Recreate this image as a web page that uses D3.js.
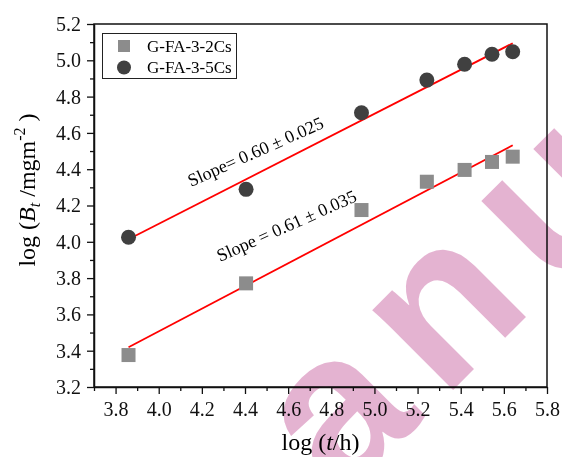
<!DOCTYPE html>
<html>
<head>
<meta charset="utf-8">
<script src="https://cdn.jsdelivr.net/npm/d3@7"></script>
<style>
  body { margin: 0; background: #fff; }
  svg { display: block; font-family: "Liberation Serif", "Times New Roman", serif; }
</style>
</head>
<body>
<svg id="chart" width="562" height="457"></svg>
<script>
// log(t/h) for each sampling time
var logT = [3.86, 4.405, 4.94, 5.243, 5.418, 5.545, 5.641];
// log(Bt / mg m^-2) for both samples
var cs2 = [3.376, 3.771, 4.175, 4.331, 4.396, 4.440, 4.469];
var cs5 = [4.025, 4.289, 4.711, 4.891, 4.978, 5.033, 5.047];
// linear fit end points
var fitX = [3.86, 5.641];
var fit2 = [3.419, 4.532];
var fit5 = [4.014, 5.094];
var seriesNames = ["G-FA-3-2Cs", "G-FA-3-5Cs"];
var xTicks = [3.8, 4.0, 4.2, 4.4, 4.6, 4.8, 5.0, 5.2, 5.4, 5.6, 5.8];
var yTicks = [3.2, 3.4, 3.6, 3.8, 4.0, 4.2, 4.4, 4.6, 4.8, 5.0, 5.2];

var margin = {top: 24, left: 94, bottom: 70, right: 15};
var svg = d3.select("#chart");
var width = 562 - margin.left - margin.right;
var height = 457 - margin.top - margin.bottom;

var x = d3.scaleLinear().domain([3.7, 5.8]).range([margin.left, margin.left + width]);
var y = d3.scaleLinear().domain([3.2, 5.2]).range([margin.top + height, margin.top]);

var minorX = d3.range(3.7, 5.81, 0.1).filter(function(v) {
  return Math.abs(Math.round(v * 5) - v * 5) > 0.01;
});
var minorY = d3.range(3.3, 5.2, 0.2);

// minor ticks
svg.append("g")
   .attr("transform", "translate(0," + (margin.top + height) + ")")
   .call(d3.axisBottom(x).tickValues(minorX).tickSize(4).tickFormat(""))
   .call(function(g) { g.select(".domain").remove(); });
svg.append("g")
   .attr("transform", "translate(" + margin.left + ",0)")
   .call(d3.axisLeft(y).tickValues(minorY).tickSize(4).tickFormat(""))
   .call(function(g) { g.select(".domain").remove(); });

// major ticks
var xAxis = svg.append("g")
   .attr("transform", "translate(0," + (margin.top + height) + ")")
   .call(d3.axisBottom(x).tickValues(xTicks).tickSize(7).tickSizeOuter(0).tickPadding(8)
     .tickFormat(d3.format(".1f")));

var yAxis = svg.append("g")
   .attr("transform", "translate(" + margin.left + ",0)")
   .call(d3.axisLeft(y).tickValues(yTicks).tickSize(7).tickSizeOuter(0).tickPadding(6)
     .tickFormat(d3.format(".1f")));

[xAxis, yAxis].forEach(function(a) {
  a.attr("font-family", null).attr("font-size", null);
  a.selectAll("text").style("font-size", "20px").attr("fill", "#111");
});

svg.selectAll(".tick line").attr("stroke", "#111").attr("stroke-width", 1.3);
svg.selectAll(".domain").attr("stroke", "#111").attr("stroke-width", 1.5);

// frame top / right
svg.append("rect")
   .attr("x", margin.left).attr("y", margin.top)
   .attr("width", width).attr("height", height)
   .attr("fill", "none").attr("stroke", "#111").attr("stroke-width", 1.5);

// fit lines
var line = d3.line()
  .x(function(d) { return x(d[0]); })
  .y(function(d) { return y(d[1]); });
[fit2, fit5].forEach(function(f) {
  svg.append("path")
     .datum(fitX.map(function(v, i) { return [v, f[i]]; }))
     .attr("d", line)
     .attr("fill", "none")
     .attr("stroke", "#ff0000")
     .attr("stroke-width", 1.8);
});

// squares
svg.append("g").selectAll("rect")
   .data(logT.map(function(v, i) { return [v, cs2[i]]; }))
   .enter().append("rect")
   .attr("x", function(d) { return x(d[0]) - 7; })
   .attr("y", function(d) { return y(d[1]) - 7; })
   .attr("width", 14).attr("height", 14)
   .attr("fill", "#8c8c8c");

// circles
svg.append("g").selectAll("circle")
   .data(logT.map(function(v, i) { return [v, cs5[i]]; }))
   .enter().append("circle")
   .attr("cx", function(d) { return x(d[0]); })
   .attr("cy", function(d) { return y(d[1]); })
   .attr("r", 7.5)
   .attr("fill", "#404040");

// slope annotations
svg.append("text")
   .attr("transform", "translate(191,187) rotate(-24)")
   .style("font-size", "18px")
   .text("Slope= 0.60 \u00b1 0.025");
svg.append("text")
   .attr("transform", "translate(220,262) rotate(-24)")
   .style("font-size", "18px")
   .text("Slope = 0.61 \u00b1 0.035");

// legend
var lg = svg.append("g");
lg.append("rect")
  .attr("x", 102.5).attr("y", 33.5).attr("width", 134).attr("height", 45)
  .attr("fill", "#fff").attr("stroke", "#222").attr("stroke-width", 1);
lg.append("rect").attr("x", 118).attr("y", 40).attr("width", 12).attr("height", 12).attr("fill", "#8c8c8c");
lg.append("circle").attr("cx", 124).attr("cy", 67.5).attr("r", 7).attr("fill", "#404040");
lg.selectAll("text.lt").data(seriesNames).enter().append("text")
  .attr("class", "lt")
  .attr("x", 147)
  .attr("y", function(d, i) { return 51.5 + i * 21.5; })
  .style("font-size", "17px")
  .text(function(d) { return d; });

// axis titles
var xt = svg.append("text")
   .attr("x", x(4.75)).attr("y", 450)
   .attr("text-anchor", "middle")
   .style("font-size", "24px");
xt.append("tspan").text("log (");
xt.append("tspan").style("font-style", "italic").text("t");
xt.append("tspan").text("/h)");

var yt = svg.append("text")
   .attr("transform", "translate(35,190) rotate(-90)")
   .attr("text-anchor", "middle")
   .style("font-size", "24px");
yt.append("tspan").text("log (");
yt.append("tspan").style("font-style", "italic").text("B");
yt.append("tspan").style("font-style", "italic").style("font-size", "16px").attr("dy", 5).text("t");
yt.append("tspan").attr("dy", -5).text(" /mgm");
yt.append("tspan").style("font-size", "16px").attr("dy", -10).text("-2");
yt.append("tspan").attr("dy", 10).text(" )");

// watermark
svg.append("text")
   .attr("transform", "translate(462,302) rotate(-45)")
   .attr("text-anchor", "middle")
   .attr("dy", "0.26em")
   .style("font-family", "'Liberation Sans', Arial, sans-serif")
   .style("font-weight", "bold")
   .style("font-size", "215px")
   .style("letter-spacing", "24px")
   .style("fill", "rgb(222,160,198)")
   .style("opacity", 0.8)
   .style("mix-blend-mode", "multiply")
   .text("anu");
</script>
</body>
</html>
